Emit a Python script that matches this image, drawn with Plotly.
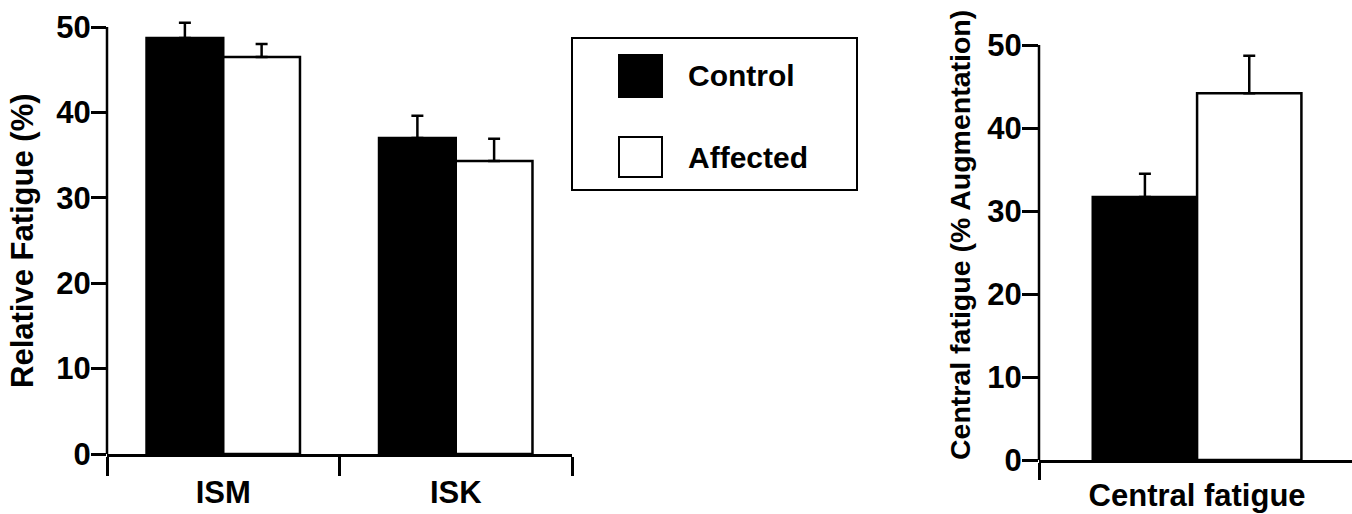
import plotly.graph_objects as go

# ---- data ----
groups = ["ISM", "ISK"]
control = [48.7, 37.0]
control_err = [1.8, 2.6]
affected = [46.5, 34.3]
affected_err = [1.5, 2.6]
no_err = [0, 0]

central_cat = ["Central fatigue"]
central_control = [31.7]
central_control_err = [2.8]
central_affected = [44.2]
central_affected_err = [4.5]
central_no_err = [0]

series_names = ["Control", "Affected"]
yticks = [0, 10, 20, 30, 40, 50]

W, H = 1352, 514
FONT = "Liberation Sans, Arial, Helvetica, sans-serif"
LW = 2.5


def px_x(p):
    return p / W


def px_y(p):
    return (H - p) / H


def bar(x, y, err, errm, name, fill, xa, ya):
    return go.Bar(
        x=x, y=y, name=name, xaxis=xa, yaxis=ya, showlegend=False,
        marker=dict(color=fill, line=dict(color="black", width=LW)),
        error_y=dict(type="data", symmetric=False, array=err, arrayminus=errm,
                     color="black", thickness=LW, width=6),
        cliponaxis=False,
    )


fig = go.Figure()
fig.add_trace(bar(groups, control, control_err, no_err, series_names[0], "black", "x", "y"))
fig.add_trace(bar(groups, affected, affected_err, no_err, series_names[1], "white", "x", "y"))
fig.add_trace(bar(central_cat, central_control, central_control_err, central_no_err,
                  series_names[0], "black", "x2", "y2"))
fig.add_trace(bar(central_cat, central_affected, central_affected_err, central_no_err,
                  series_names[1], "white", "x2", "y2"))

tickfont = dict(family=FONT, size=31, color="black", weight="bold")

common_y = dict(tickvals=yticks, showline=False,
                ticks="outside", tickcolor="black", tickwidth=LW,
                showgrid=False, zeroline=False, tickfont=tickfont, fixedrange=True,
                automargin=False, ticklabelstandoff=-6)
common_x = dict(type="category", showline=True, linecolor="black", linewidth=LW,
                ticks="outside", tickson="boundaries", tickcolor="black", tickwidth=LW,
                showgrid=False, zeroline=False, tickfont=tickfont, fixedrange=True,
                automargin=False)

# left panel: value 0 at px 454, 50 at px 27 -> range extended to 51 so the error bar is not clipped
left_ppu = (454 - 27) / 50
fig.update_layout(
    template="none",
    width=W, height=H,
    margin=dict(l=0, r=0, t=0, b=0, autoexpand=False),
    paper_bgcolor="white", plot_bgcolor="white",
    barmode="group", bargap=0.34, bargroupgap=0,
    showlegend=False,
    xaxis=dict(common_x, domain=[px_x(107), px_x(572)], range=[-0.5, 1.5],
               ticklen=19, ticklabelstandoff=9, anchor="y"),
    yaxis=dict(common_y, range=[0, 51], domain=[px_y(454), px_y(454 - 51 * left_ppu)],
               ticklen=15, anchor="x"),
    xaxis2=dict(common_x, domain=[px_x(1039), 1.0], range=[-0.5, 0.49],
                ticklen=17, ticklabelstandoff=6, anchor="y2"),
    yaxis2=dict(common_y, range=[0, 50], domain=[px_y(460), px_y(45)],
                ticklen=16, anchor="x2"),
)

# y axis lines ending at the top tick (50)
for xr, yr in [("x domain", "y"), ("x2 domain", "y2")]:
    fig.add_shape(type="line", xref=xr, yref=yr, x0=0, x1=0, y0=0, y1=yticks[-1],
                  line=dict(color="black", width=LW))

# axis titles
fig.add_annotation(text="Relative Fatigue (%)", xref="paper", yref="paper",
                   x=px_x(22), y=px_y(241), textangle=-90, showarrow=False,
                   xanchor="center", yanchor="middle",
                   font=dict(family=FONT, size=31, color="black", weight="bold"))
fig.add_annotation(text="Central fatigue (% Augmentation)", xref="paper", yref="paper",
                   x=px_x(960), y=px_y(235), textangle=-90, showarrow=False,
                   xanchor="center", yanchor="middle",
                   font=dict(family=FONT, size=28.5, color="black", weight="bold"))

# legend box (drawn manually to get large swatches)
fig.add_shape(type="rect", xref="paper", yref="paper",
              x0=px_x(572), x1=px_x(857), y0=px_y(190), y1=px_y(38),
              line=dict(color="black", width=2), fillcolor="white")
fig.add_shape(type="rect", xref="paper", yref="paper",
              x0=px_x(619), x1=px_x(662), y0=px_y(97), y1=px_y(55),
              line=dict(color="black", width=2), fillcolor="black")
fig.add_shape(type="rect", xref="paper", yref="paper",
              x0=px_x(619), x1=px_x(662), y0=px_y(177), y1=px_y(137),
              line=dict(color="black", width=2), fillcolor="white")
for name, yc in zip(series_names, [75, 157]):
    fig.add_annotation(text=name, xref="paper", yref="paper", x=px_x(686), y=px_y(yc),
                       xanchor="left", yanchor="middle", showarrow=False,
                       font=dict(family=FONT, size=30, color="black", weight="bold"))

fig.write_html("out.html")
